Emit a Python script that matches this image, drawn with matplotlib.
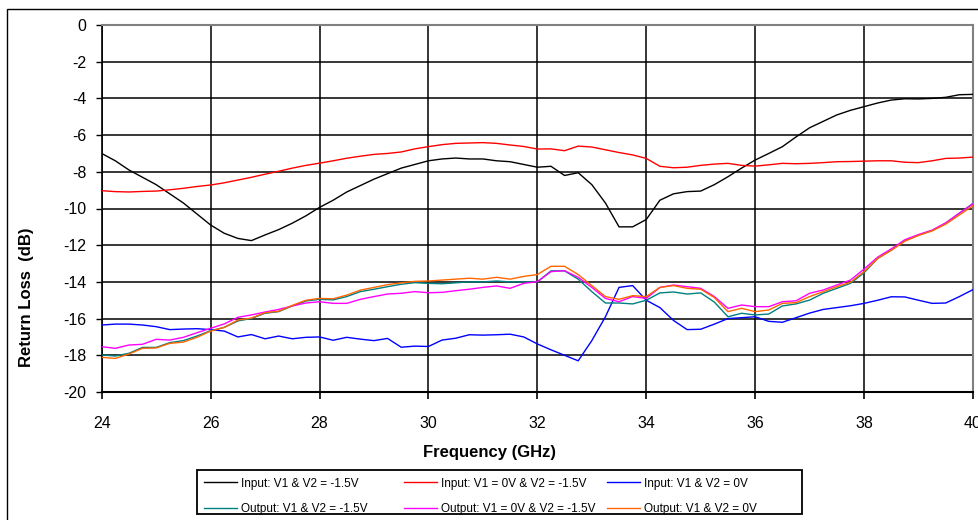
import numpy as np
import matplotlib.pyplot as plt
from matplotlib.patches import Rectangle

plt.rcParams['font.family'] = ['Liberation Sans', 'DejaVu Sans']
plt.rcParams['axes.unicode_minus'] = False

# sweep points, 0.25 GHz apart
freq = np.arange(24.0, 40.001, 0.25)

in_n15 = [-7.00, -7.40, -7.90, -8.30, -8.70, -9.20, -9.70, -10.30,
          -10.90, -11.35, -11.63, -11.75, -11.44, -11.15, -10.80, -10.40,
          -9.94, -9.55, -9.10, -8.75, -8.40, -8.10, -7.80, -7.60,
          -7.40, -7.30, -7.25, -7.30, -7.30, -7.40, -7.45, -7.60,
          -7.75, -7.70, -8.20, -8.05, -8.70, -9.70, -11.00, -11.00,
          -10.60, -9.55, -9.20, -9.08, -9.05, -8.70, -8.27, -7.80,
          -7.36, -7.00, -6.63, -6.10, -5.60, -5.25, -4.90, -4.65,
          -4.45, -4.25, -4.09, -4.02, -4.03, -4.00, -3.94, -3.80,
          -3.78]

in_0_n15 = [-9.03, -9.08, -9.10, -9.07, -9.05, -8.98, -8.90, -8.80,
            -8.72, -8.60, -8.45, -8.30, -8.13, -7.97, -7.80, -7.65,
            -7.53, -7.40, -7.26, -7.15, -7.05, -7.00, -6.92, -6.75,
            -6.63, -6.52, -6.45, -6.43, -6.41, -6.45, -6.54, -6.62,
            -6.76, -6.75, -6.85, -6.60, -6.65, -6.80, -6.95, -7.08,
            -7.27, -7.70, -7.78, -7.75, -7.65, -7.58, -7.54, -7.65,
            -7.69, -7.62, -7.54, -7.56, -7.54, -7.50, -7.45, -7.44,
            -7.42, -7.40, -7.40, -7.48, -7.50, -7.40, -7.27, -7.25,
            -7.20]

in_0 = [-16.35, -16.30, -16.30, -16.35, -16.44, -16.60, -16.57, -16.55,
        -16.60, -16.68, -17.00, -16.87, -17.10, -16.95, -17.10, -17.02,
        -17.00, -17.18, -17.02, -17.12, -17.20, -17.08, -17.56, -17.50,
        -17.52, -17.17, -17.07, -16.88, -16.90, -16.88, -16.85, -17.00,
        -17.38, -17.70, -18.00, -18.30, -17.20, -15.90, -14.30, -14.20,
        -15.00, -15.40, -16.10, -16.60, -16.58, -16.30, -16.00, -15.95,
        -15.90, -16.15, -16.20, -15.95, -15.70, -15.50, -15.40, -15.30,
        -15.17, -15.00, -14.81, -14.82, -15.00, -15.17, -15.15, -14.80,
        -14.42]

out_n15 = [-17.98, -18.04, -17.89, -17.57, -17.57, -17.31, -17.20, -16.95,
           -16.66, -16.48, -16.13, -15.99, -15.71, -15.62, -15.31, -15.04,
           -14.95, -14.98, -14.80, -14.53, -14.40, -14.26, -14.13, -14.04,
           -14.08, -14.10, -14.05, -14.00, -14.00, -13.95, -14.00, -14.00,
           -14.00, -13.40, -13.40, -13.85, -14.53, -15.15, -15.15, -15.20,
           -15.00, -14.60, -14.55, -14.66, -14.60, -15.10, -15.90, -15.71,
           -15.80, -15.75, -15.31, -15.20, -14.99, -14.62, -14.35, -14.08,
           -13.50, -12.72, -12.26, -11.75, -11.44, -11.20, -10.80, -10.26,
           -9.72]

out_0_n15 = [-17.53, -17.62, -17.44, -17.40, -17.13, -17.17, -17.02, -16.77,
             -16.53, -16.29, -15.93, -15.80, -15.64, -15.50, -15.31, -15.15,
             -15.08, -15.17, -15.17, -14.95, -14.80, -14.66, -14.62, -14.53,
             -14.59, -14.57, -14.48, -14.40, -14.30, -14.22, -14.35, -14.08,
             -13.99, -13.44, -13.39, -13.75, -14.30, -14.90, -15.08, -14.80,
             -14.90, -14.30, -14.17, -14.26, -14.35, -14.80, -15.44, -15.26,
             -15.35, -15.35, -15.08, -15.03, -14.62, -14.44, -14.17, -13.90,
             -13.30, -12.65, -12.20, -11.70, -11.42, -11.18, -10.78, -10.25,
             -9.75]

out_0 = [-18.11, -18.17, -17.93, -17.62, -17.60, -17.35, -17.28, -17.02,
         -16.68, -16.48, -16.08, -15.97, -15.68, -15.60, -15.28, -15.00,
         -14.90, -14.92, -14.72, -14.45, -14.30, -14.15, -14.05, -13.97,
         -13.95, -13.90, -13.85, -13.80, -13.85, -13.75, -13.85, -13.70,
         -13.60, -13.15, -13.15, -13.60, -14.20, -14.80, -14.95, -14.75,
         -14.80, -14.30, -14.20, -14.35, -14.40, -14.85, -15.62, -15.44,
         -15.62, -15.53, -15.17, -15.13, -14.80, -14.53, -14.26, -14.02,
         -13.44, -12.72, -12.28, -11.78, -11.47, -11.22, -10.85, -10.35,
         -9.85]

labels = ['Input: V1 & V2 = -1.5V', 'Input: V1 = 0V & V2 = -1.5V',
          'Input: V1 & V2 = 0V', 'Output: V1 & V2 = -1.5V',
          'Output: V1 = 0V & V2 = -1.5V', 'Output: V1 & V2 = 0V']
series = [in_n15, in_0_n15, in_0, out_n15, out_0_n15, out_0]
colors = ['black', '#ff0000', '#0000ff', '#008080', '#ff00ff', '#ff6600']

W, H = 979, 520
fig = plt.figure(figsize=(W / 100, H / 100), dpi=100)
ax = fig.add_axes([101.7 / W, 1 - 392 / H, (973 - 101.7) / W, (392 - 25) / H])

handles = []
for vals, lab, col in zip(series, labels, colors):
    h, = ax.plot(freq, vals, color=col, lw=1.0, label=lab, zorder=3)
    handles.append(h)

ax.set_xlim(24, 40)
ax.set_ylim(-20, 0)
ax.set_xticks(np.arange(24, 41, 2))
ax.set_yticks(np.arange(-20, 1, 2))
ax.grid(True, color='black', lw=1.1, zorder=1)
ax.tick_params(axis='both', direction='out', color='black', labelsize=11.5)
ax.tick_params(axis='x', length=5, width=1.2, pad=12)
ax.tick_params(axis='y', length=4, width=1.0, pad=7)
ax.spines['left'].set_linewidth(1.2)
ax.spines['bottom'].set_linewidth(1.5)
for s in ['top', 'right']:
    ax.spines[s].set_color('#808080')
    ax.spines[s].set_linewidth(1.5)

fig.text(490 / W, 1 - 453 / H, 'Frequency (GHz)', ha='center', va='center',
         fontsize=12, fontweight='bold')
fig.text(27 / W, 1 - 297 / H, 'Return Loss  (dB)', ha='center', va='center',
         rotation=90, fontsize=12, fontweight='bold')

# chart border and legend box
fig.patches.append(Rectangle((7.5 / W, -0.1), 1.2, 1 - 9 / H + 0.1,
                             transform=fig.transFigure, fill=False,
                             edgecolor='black', lw=1.0))
fig.patches.append(Rectangle((197 / W, 1 - 514 / H), (802 - 197) / W, 44 / H,
                             transform=fig.transFigure, fill=False,
                             edgecolor='black', lw=1.3))

# legend: three columns, each holding an input/output pair
col_x = [200, 400, 603]
for i, cx in enumerate(col_x):
    fig.legend(handles=[handles[i], handles[i + 3]], loc='upper left',
               bbox_to_anchor=(cx / W, 1 - 474 / H), frameon=False,
               fontsize=8.5, handlelength=2.8, handletextpad=0.4,
               labelspacing=1.15, borderpad=0.3, borderaxespad=0)

fig.savefig('out.png', dpi=100)
